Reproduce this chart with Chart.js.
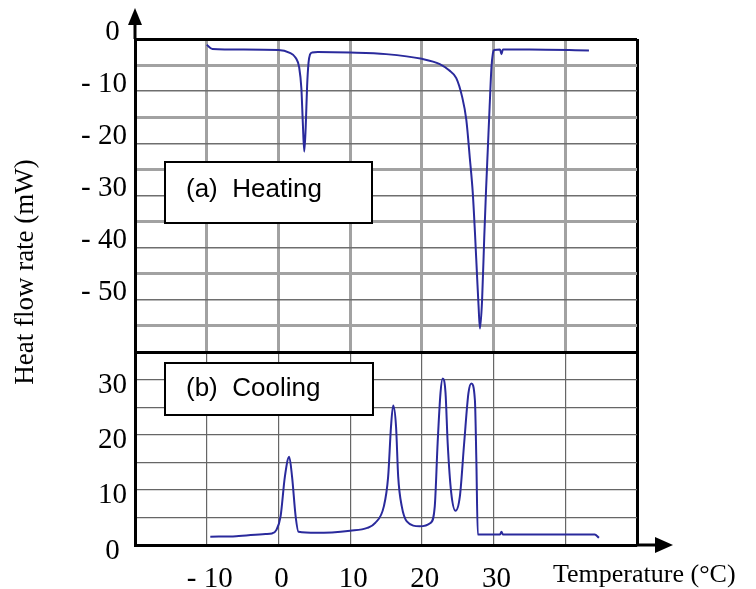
<!DOCTYPE html>
<html>
<head>
<meta charset="utf-8">
<script src="https://cdn.jsdelivr.net/npm/chart.js@4.4.0/dist/chart.umd.min.js"></script>
<style>
  body { margin: 0; background: #fff; }
  #wrap { position: relative; width: 756px; height: 589px; }
  canvas { position: absolute; left: 0; top: 0; }
</style>
</head>
<body>
<div id="wrap">
  <canvas id="heatChart" width="756" height="589"></canvas>
  <canvas id="coolChart" width="756" height="589"></canvas>
</div>
<script>
// (a) heating run
const heatTemp = [-10.0, -9.2, -5.0, 0.0, 1.5, 2.4, 2.9, 3.2, 3.4, 3.6, 3.8, 4.0, 4.2, 4.4, 4.7, 5.5,
  10.0, 15.0, 20.0, 22.5, 23.8, 24.8, 25.6, 26.2, 26.7, 27.1, 27.4, 27.7, 27.9, 28.1, 28.4, 28.7,
  28.95, 29.2, 29.45, 29.7, 29.9, 30.1, 30.9, 31.1, 31.3, 35.0, 43.3];
const heatFlow = [-1.1, -1.9, -2.0, -2.1, -2.6, -3.6, -5.5, -9.5, -16, -21.6, -17, -9, -4.5, -3.0, -2.6, -2.5,
  -2.6, -2.9, -3.8, -4.8, -6.0, -7.5, -11, -15.5, -23, -29.5, -37, -45.5, -51, -55.5, -50, -38,
  -29, -21, -13, -5.5, -2.8, -2.1, -2.0, -2.9, -2.0, -2.0, -2.2];

// (b) cooling run
const coolTemp = [-9.5, -5.9, -1.8, -0.9, -0.3, 0.3, 0.9, 1.5, 1.9, 2.4, 2.8, 5.3, 10.0, 12.4, 13.5, 14.7,
  15.3, 15.7, 16.0, 16.4, 16.7, 17.2, 17.9, 19.7, 21.2, 21.8, 22.2, 22.6, 22.9, 23.3, 23.6, 24.1,
  24.7, 25.3, 25.9, 26.5, 26.9, 27.4, 27.6, 27.8, 28.2, 30.9, 31.1, 31.3, 44.1, 44.7];
const coolFlow = [1.5, 1.6, 2.0, 2.1, 2.7, 5.2, 12.4, 16.0, 12.4, 5.2, 2.4, 2.2, 2.6, 3.1, 4.0, 7.0,
  12.4, 21.5, 25.3, 21.5, 12.4, 7.0, 4.3, 3.4, 4.0, 7.0, 18.5, 27.6, 30.2, 27.6, 18.5, 9.4,
  6.2, 8.8, 18.5, 27.6, 29.3, 26.2, 15.3, 1.9, 1.9, 1.9, 2.4, 1.9, 1.9, 1.3];

const tempTicks = [-10, 0, 10, 20, 30];
const heatTicks = [0, -10, -20, -30, -40, -50];
const coolTicks = [0, 10, 20, 30];

const serif = "'Liberation Serif', 'Times New Roman', serif";
const sans = "'Liberation Sans', Arial, sans-serif";
const lineBlue = '#2a2a9c';

function fmt(v) {
  if (v === 0) return '0 ';
  return v < 0 ? '- ' + (-v) : String(v);
}

function labelBox(ctx, x, y, w, h, text, baseline) {
  ctx.save();
  ctx.fillStyle = '#fff';
  ctx.fillRect(x, y, w, h);
  ctx.strokeStyle = '#000';
  ctx.lineWidth = 2;
  ctx.strokeRect(x, y, w, h);
  ctx.fillStyle = '#000';
  ctx.font = '26px ' + sans;
  ctx.textBaseline = 'alphabetic';
  ctx.fillText(text, x + 21, baseline);
  ctx.restore();
}

const heatDecor = {
  id: 'heatDecor',
  afterDraw(chart) {
    const ctx = chart.ctx;
    const a = chart.chartArea;
    ctx.save();
    ctx.strokeStyle = '#000';
    ctx.fillStyle = '#000';
    ctx.lineWidth = 3;
    ctx.beginPath();
    ctx.moveTo(a.left, a.top);
    ctx.lineTo(a.left, 22);
    ctx.stroke();
    ctx.beginPath();
    ctx.moveTo(a.left, 8);
    ctx.lineTo(a.left - 7, 25);
    ctx.lineTo(a.left + 7, 25);
    ctx.closePath();
    ctx.fill();
    ctx.restore();
    labelBox(ctx, 165, 162, 207, 61, '(a)  Heating', 197);
  }
};

const coolDecor = {
  id: 'coolDecor',
  afterDraw(chart) {
    const ctx = chart.ctx;
    const a = chart.chartArea;
    ctx.save();
    ctx.strokeStyle = '#000';
    ctx.fillStyle = '#000';
    ctx.lineWidth = 3;
    ctx.beginPath();
    ctx.moveTo(a.right, a.bottom);
    ctx.lineTo(660, a.bottom);
    ctx.stroke();
    ctx.beginPath();
    ctx.moveTo(673, a.bottom);
    ctx.lineTo(655, a.bottom - 8);
    ctx.lineTo(655, a.bottom + 8);
    ctx.closePath();
    ctx.fill();

    ctx.font = '26px ' + serif;
    ctx.textAlign = 'left';
    ctx.textBaseline = 'alphabetic';
    ctx.fillText('Temperature (\u00B0C)', 553, 582);

    ctx.translate(33, 272);
    ctx.rotate(-Math.PI / 2);
    ctx.font = '27px ' + serif;
    ctx.textAlign = 'center';
    ctx.fillText('Heat flow rate (mW)', 0, 0);
    ctx.restore();
    labelBox(ctx, 165, 363, 208, 52, '(b)  Cooling', 396);
  }
};

const heatChart = new Chart(document.getElementById('heatChart').getContext('2d'), {
  type: 'line',
  data: {
    datasets: [{
      data: heatTemp.map((t, i) => ({ x: t, y: heatFlow[i] })),
      borderColor: lineBlue,
      borderWidth: 2,
      pointRadius: 0,
      cubicInterpolationMode: 'monotone'
    }]
  },
  options: {
    responsive: false,
    animation: false,
    layout: { padding: { left: 0, top: 39, right: 119, bottom: 237 } },
    plugins: { legend: { display: false }, tooltip: { enabled: false } },
    scales: {
      x: {
        type: 'linear',
        min: -20, max: 50,
        ticks: { stepSize: 10, display: false },
        grid: {
          drawTicks: false,
          color: c => c.tick.value === -20 ? 'rgba(0,0,0,0)' : (c.tick.value === 50 ? '#000' : '#a2a2a2'),
          lineWidth: 3
        },
        border: { display: false },
        afterFit: s => { s.height = 0; }
      },
      y: {
        min: -60, max: 0,
        ticks: {
          stepSize: 5,
          autoSkip: false,
          maxTicksLimit: 30,
          padding: 8,
          labelOffset: -7,
          color: '#000',
          font: { family: serif, size: 29 },
          callback: v => heatTicks.includes(v) ? fmt(v) : ''
        },
        grid: {
          drawTicks: false,
          color: c => {
            const v = c.tick.value;
            if (v === 0 || v === -60) return '#000';
            return v % 10 === 0 ? '#6e6e6e' : '#a2a2a2';
          },
          lineWidth: c => {
            const v = c.tick.value;
            if (v === 0 || v === -60) return 3;
            return v % 10 === 0 ? 1.5 : 3;
          }
        },
        border: { color: '#000', width: 3 },
        afterFit: s => { s.width = 135; }
      }
    }
  },
  plugins: [heatDecor]
});

const coolChart = new Chart(document.getElementById('coolChart').getContext('2d'), {
  type: 'line',
  data: {
    datasets: [{
      data: coolTemp.map((t, i) => ({ x: t, y: coolFlow[i] })),
      borderColor: lineBlue,
      borderWidth: 2,
      pointRadius: 0,
      cubicInterpolationMode: 'monotone'
    }]
  },
  options: {
    responsive: false,
    animation: false,
    layout: { padding: { left: 0, top: 352, right: 119, bottom: 0 } },
    plugins: { legend: { display: false }, tooltip: { enabled: false } },
    scales: {
      x: {
        type: 'linear',
        min: -20, max: 50,
        ticks: {
          stepSize: 10,
          autoSkip: false,
          maxRotation: 0,
          padding: 17,
          labelOffset: 3,
          color: '#000',
          font: { family: serif, size: 29 },
          callback: v => tempTicks.includes(v) ? fmt(v).trim() : ''
        },
        grid: {
          drawTicks: false,
          color: c => c.tick.value === -20 ? 'rgba(0,0,0,0)' : (c.tick.value === 50 ? '#000' : '#666'),
          lineWidth: c => c.tick.value === 50 ? 3 : 1.2
        },
        border: { color: '#000', width: 3 },
        afterFit: s => { s.height = 44; }
      },
      y: {
        min: 0, max: 35,
        ticks: {
          stepSize: 5,
          autoSkip: false,
          maxTicksLimit: 30,
          padding: 8,
          labelOffset: 6,
          color: '#000',
          font: { family: serif, size: 29 },
          callback: v => coolTicks.includes(v) ? fmt(v) : ''
        },
        grid: {
          drawTicks: false,
          color: c => c.tick.value === 0 ? 'rgba(0,0,0,0)' : (c.tick.value === 35 ? '#000' : '#666'),
          lineWidth: c => c.tick.value === 35 ? 3 : 1.2
        },
        border: { color: '#000', width: 3 },
        afterFit: s => { s.width = 135; }
      }
    }
  },
  plugins: [coolDecor]
});
</script>
</body>
</html>
